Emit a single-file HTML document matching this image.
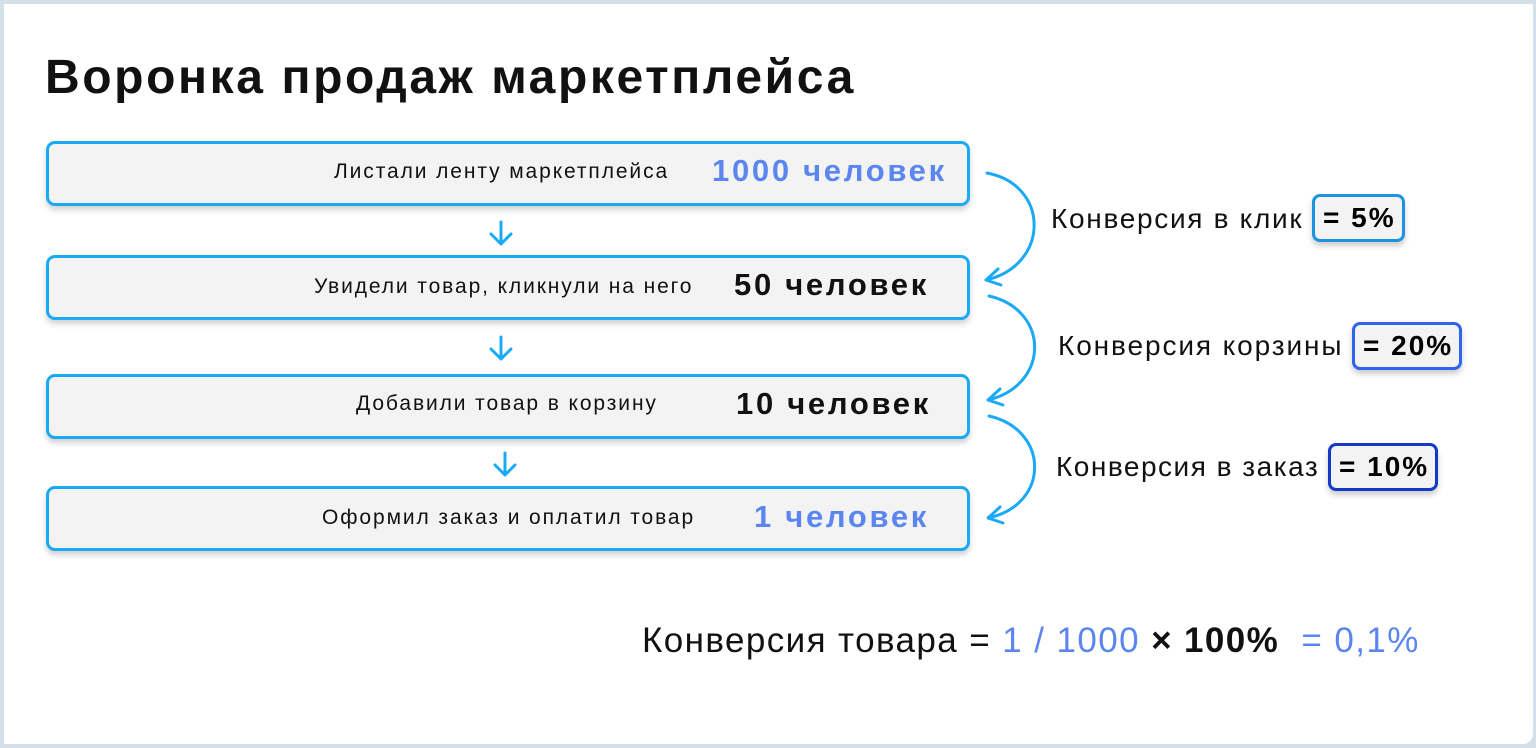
<!DOCTYPE html>
<html><head><meta charset="utf-8"><style>
html,body{margin:0;padding:0;}
body{width:1536px;height:748px;background:#d3e0ea;position:relative;overflow:hidden;font-family:"Liberation Sans","DejaVu Sans",sans-serif;}
.card{position:absolute;left:4px;top:4px;width:1529px;height:740px;background:#fff;border-radius:0 0 10px 0;}
.t{position:absolute;white-space:nowrap;color:#111;}
.box{position:absolute;left:46px;width:918px;height:59px;border:3px solid #1aa9f5;border-radius:9px;background:#f3f3f3;box-shadow:0 4px 6px rgba(0,0,0,0.18);}
.lbl{font-size:21px;letter-spacing:1.9px;}
.num{font-size:31px;font-weight:bold;letter-spacing:2.7px;}
.pill{position:absolute;border:3px solid;border-radius:8px;background:#f3f3f3;font-size:28px;font-weight:bold;box-shadow:0 4px 6px rgba(0,0,0,0.2);line-height:42px;padding:0 6px 0 8px;white-space:nowrap;letter-spacing:2px;}
.conv{font-size:28px;letter-spacing:1.7px;}
</style></head><body>
<div class="card"></div>
<div class="t" style="left:45px;top:50px;font-size:48px;font-weight:bold;letter-spacing:2.6px;">Воронка продаж маркетплейса</div>

<div class="box" style="top:141px"></div>
<div class="box" style="top:255px"></div>
<div class="box" style="top:374px"></div>
<div class="box" style="top:486px"></div>

<div class="t lbl" style="left:334px;top:160px;">Листали ленту маркетплейса</div>
<div class="t num" style="left:712px;top:153px;color:#5b86f0;">1000 человек</div>
<div class="t lbl" style="left:314px;top:275px;">Увидели товар, кликнули на него</div>
<div class="t num" style="left:734px;top:267px;">50 человек</div>
<div class="t lbl" style="left:356px;top:392px;">Добавили товар в корзину</div>
<div class="t num" style="left:736px;top:386px;">10 человек</div>
<div class="t lbl" style="left:322px;top:506px;">Оформил заказ и оплатил товар</div>
<div class="t num" style="left:754px;top:499px;color:#5b86f0;">1 человек</div>

<svg style="position:absolute;left:0;top:0" width="1536" height="748" fill="none" stroke="#1aa9f5" stroke-width="3" stroke-linecap="round" stroke-linejoin="round">
<path d="M501 222v22M491 234l10 10 10-10"/>
<path d="M501 337v22M491 349l10 10 10-10"/>
<path d="M505 453v22M495 465l10 10 10-10"/>
<path d="M987 173 C1050 185,1050 265,986 280 M986 280l12-11 M986 280l15 5"/>
<path d="M989 296 C1050 310,1050 385,988 400 M988 400l12-11 M988 400l15 5"/>
<path d="M989 416 C1050 430,1050 505,988 518 M988 518l12-11 M988 518l15 5"/>
</svg>

<div class="t conv" style="left:1051px;top:203px;">Конверсия в клик</div>
<div class="pill" style="left:1312px;top:194px;border-color:#1a93e0;">= 5%</div>
<div class="t conv" style="left:1058px;top:330px;letter-spacing:1.9px;">Конверсия корзины</div>
<div class="pill" style="left:1352px;top:322px;border-color:#2f63f0;">= 20%</div>
<div class="t conv" style="left:1056px;top:451px;letter-spacing:1.5px;">Конверсия в заказ</div>
<div class="pill" style="left:1328px;top:443px;border-color:#1438c8;">= 10%</div>

<div class="t" style="left:642px;top:621px;font-size:35px;letter-spacing:1.4px;">Конверсия товара = <span style="color:#5b86f0">1 / 1000</span> <b>× 100%</b> &nbsp;<span style="color:#5b86f0">= 0,1%</span></div>
</body></html>
